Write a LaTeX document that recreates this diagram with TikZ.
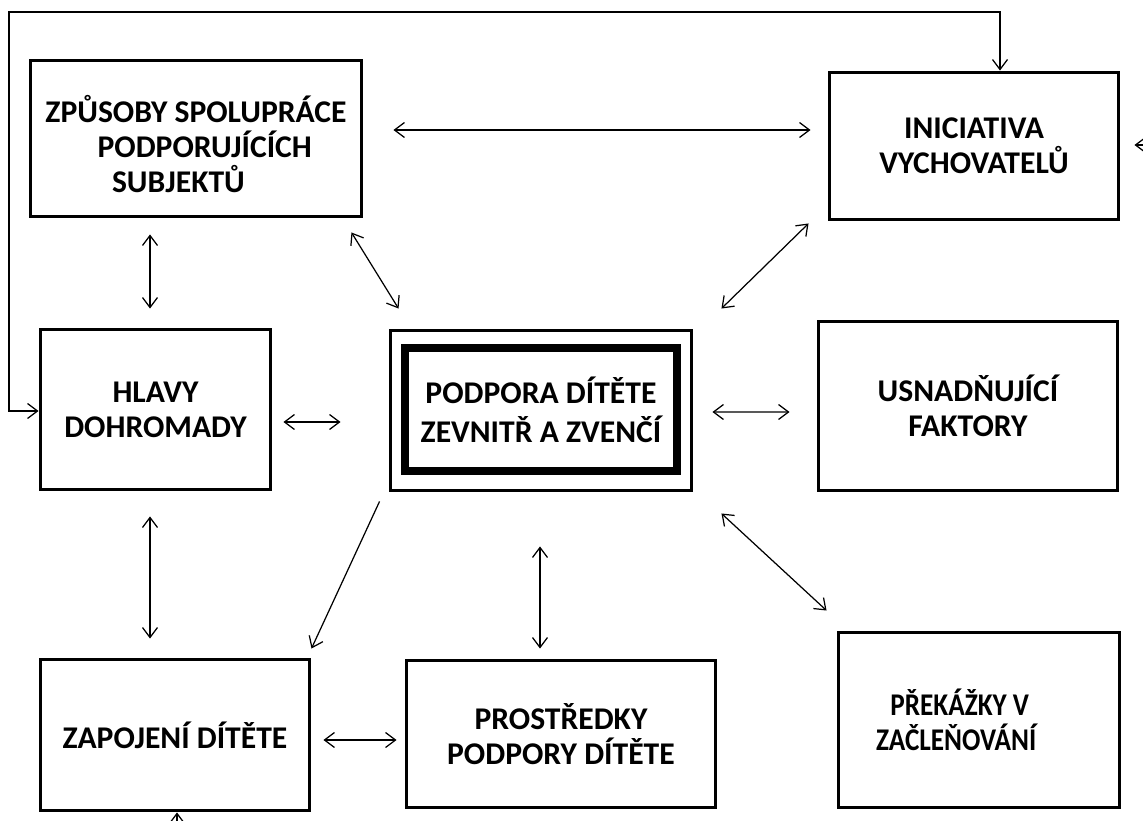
\documentclass[tikz,border=0pt]{standalone}
\usepackage{fontspec}
\setmainfont{Carlito}
\usetikzlibrary{calc,arrows.meta}
\tikzset{
  box/.style={draw,line width=1.7pt,align=center,inner sep=2pt,font=\bfseries\fontsize{18}{20}\selectfont},
  link/.style={{Straight Barb[length=2mm,width=3mm]}-{Straight Barb[length=2mm,width=3mm]},line width=0.7pt},
  link1/.style={-{Straight Barb[length=2mm,width=3mm]},line width=0.7pt},
}
\begin{document}
\begin{tikzpicture}[x=0.02cm,y=-0.02cm]
\useasboundingbox (0,0) rectangle (1143,821);
\node[box,minimum width=6.64cm,minimum height=3.14cm] (zpusoby) at (196,138.5) {\rule{0pt}{22pt}ZPŮSOBY SPOLUPRÁCE\\ \hspace*{10pt}PODPORUJÍCÍCH\\SUBJEKTŮ\hspace*{20pt}};
\node[box,minimum width=5.8cm,minimum height=2.96cm] (inic) at (974,146) {INICIATIVA\\VYCHOVATELŮ};
\node[box,minimum width=4.62cm,minimum height=3.22cm] (hlavy) at (155.5,409.5) {HLAVY\\DOHROMADY};
\node[draw,line width=1.7pt,minimum width=6.04cm,minimum height=3.22cm] (stred) at (541,410.5) {};
\node[box,line width=4.5pt,minimum width=5.44cm,minimum height=2.46cm] (podpora) at (541,409.5) {PODPORA DÍTĚTE\\[2pt]ZEVNITŘ A ZVENČÍ};
\node[box,minimum width=6cm,minimum height=3.4cm] (usnad) at (968,406) {USNADŇUJÍCÍ\\FAKTORY};
\node[box,minimum width=5.4cm,minimum height=3.04cm] (zapojeni) at (175,735) {ZAPOJENÍ DÍTĚTE};
\node[box,minimum width=6.2cm,minimum height=2.96cm] (prostr) at (561,734) {PROSTŘEDKY\\PODPORY DÍTĚTE};
\node[box,minimum width=5.64cm,minimum height=3.52cm] (prekazky) at (979,720) {\scalebox{0.86}[1]{PŘEKÁŽKY V}\hspace*{22pt}\\\scalebox{0.86}[1]{ZAČLEŇOVÁNÍ}\hspace*{26pt}};
\coordinate (roh) at (9,12);
\coordinate (vpravo) at (1143,145);
\coordinate (dole) at (177,821);
\draw[link] ($(zpusoby.east)+(30,-8.5)$) -- ($(inic.west)+(-17,-16)$);
\draw[link] ($(zpusoby.south)+(-46,16)$) -- ($(hlavy.north)+(-5.5,-19)$);
\draw[link] ($(zpusoby.south east)+(-12,14)$) -- ($(stred.north west)+(10,-20)$);
\draw[link] ($(inic.south west)+(-19,2)$) -- ($(stred.north east)+(28,-20)$);
\draw[link] ($(hlavy.east)+(11,12.5)$) -- ($(stred.west)+(-48,11.5)$);
\draw[link] ($(stred.east)+(19,1.5)$) -- ($(usnad.west)+(-27,6)$);
\draw[link] ($(hlavy.south)+(-5.5,25)$) -- ($(zapojeni.north)+(-25,-19)$);
\draw[link1] ($(stred.south west)+(-9,9)$) -- ($(zapojeni.north east)+(0,-9)$);
\draw[link] ($(stred.south)+(-1,54)$) -- ($(prostr.north)+(-21,-10)$);
\draw[link] ($(stred.south east)+(28,21)$) -- ($(prekazky.north west)+(-10,-20)$);
\draw[link] ($(zapojeni.east)+(12,5)$) -- ($(prostr.west)+(-8,6)$);
\draw[link] ($(inic.north)+(26,0)$) |- (roh) |- ($(hlavy.west)+(0,1.5)$);
\draw[link1] (vpravo) -- ($(inic.east)+(14,-1)$);
\draw[link1] (dole) -- ($(zapojeni.south)+(2,0)$);
\end{tikzpicture}
\end{document}
